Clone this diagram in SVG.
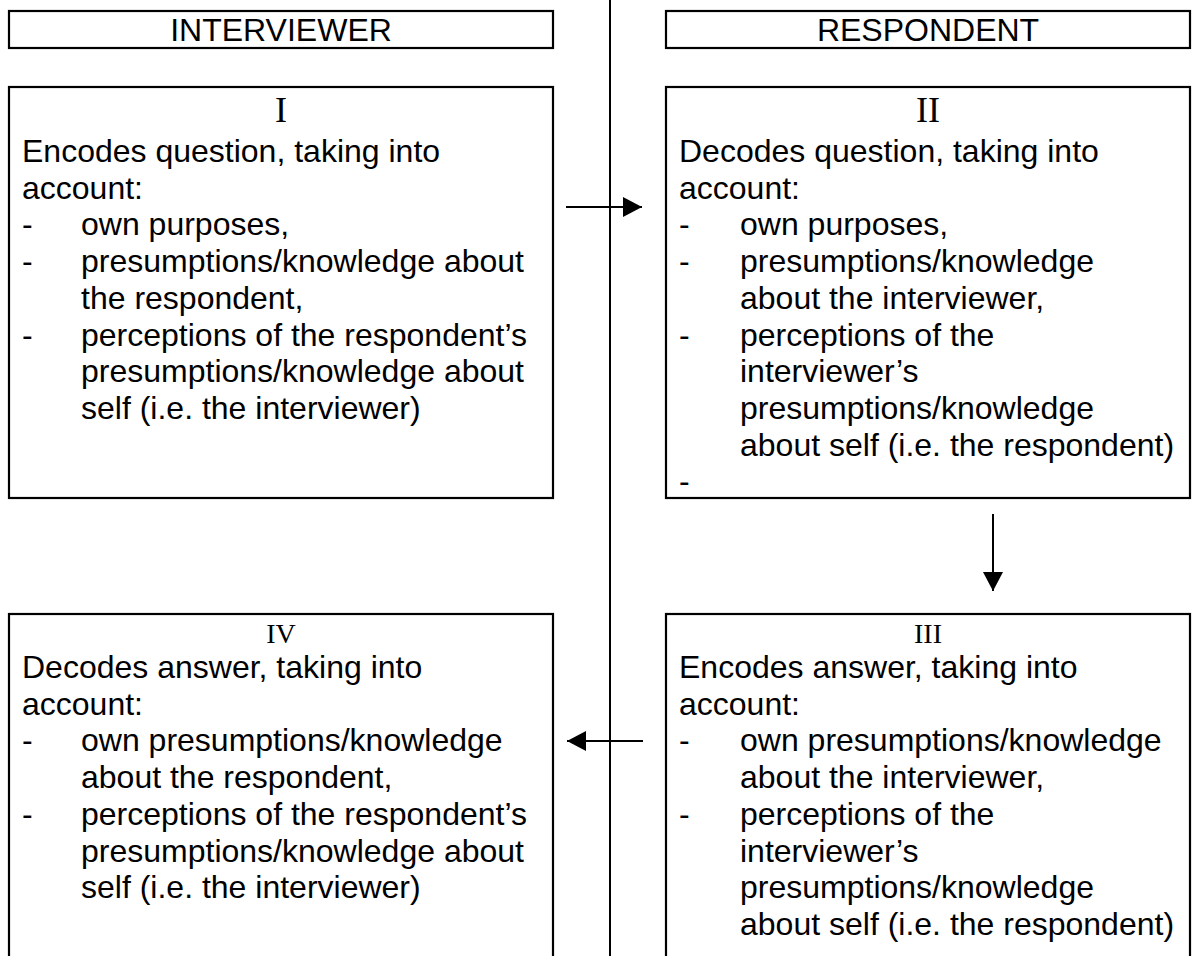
<svg xmlns="http://www.w3.org/2000/svg" width="1197" height="956" viewBox="0 0 1197 956">
<style>
  .box { fill: #fff; stroke: #000; stroke-width: 2.2; }
  .t { font-family: "Liberation Sans", Arial, sans-serif; font-size: 32px; fill: #000; }
  .num { font-family: "Liberation Serif", "Times New Roman", serif; font-size: 36px; fill: #000; text-anchor: middle; }
  .num2 { font-family: "Liberation Serif", "Times New Roman", serif; font-size: 28px; fill: #000; text-anchor: middle; }
  .hd { text-anchor: middle; }
  .conn { stroke: #000; stroke-width: 2; fill: none; }
</style>
<defs>
  <marker id="ah" markerUnits="userSpaceOnUse" markerWidth="20" markerHeight="22" refX="19" refY="10" orient="auto">
    <path d="M0,0 L19,10 L0,20 Z" fill="#000"/>
  </marker>
</defs>
<rect width="1197" height="956" fill="#fff"/>

<g id="divider">
  <line x1="610" y1="0" x2="610" y2="956" stroke="#000" stroke-width="2"/>
</g>

<g id="header-interviewer">
  <rect class="box" x="9" y="11" width="544" height="37"/>
  <text class="t hd" x="281" y="41">INTERVIEWER</text>
</g>
<g id="header-respondent">
  <rect class="box" x="666" y="11" width="524" height="37"/>
  <text class="t hd" x="928" y="41">RESPONDENT</text>
</g>

<g id="box-I">
  <rect class="box" x="9" y="87" width="544" height="411"/>
  <text class="num" x="281" y="122">I</text>
  <text class="t" x="22" y="162">Encodes question, taking into</text>
  <text class="t" x="22" y="198.7">account:</text>
  <text class="t" x="22" y="235.4">-</text><text class="t" x="81" y="235.4">own purposes,</text>
  <text class="t" x="22" y="272.1">-</text><text class="t" x="81" y="272.1">presumptions/knowledge about</text>
  <text class="t" x="81" y="308.8">the respondent,</text>
  <text class="t" x="22" y="345.5">-</text><text class="t" x="81" y="345.5">perceptions of the respondent’s</text>
  <text class="t" x="81" y="382.2">presumptions/knowledge about</text>
  <text class="t" x="81" y="418.9">self (i.e. the interviewer)</text>
</g>

<g id="box-II">
  <rect class="box" x="666" y="87" width="524" height="411"/>
  <text class="num" x="928" y="122">II</text>
  <text class="t" x="679" y="162">Decodes question, taking into</text>
  <text class="t" x="679" y="198.7">account:</text>
  <text class="t" x="679" y="235.4">-</text><text class="t" x="740" y="235.4">own purposes,</text>
  <text class="t" x="679" y="272.1">-</text><text class="t" x="740" y="272.1">presumptions/knowledge</text>
  <text class="t" x="740" y="308.8">about the interviewer,</text>
  <text class="t" x="679" y="345.5">-</text><text class="t" x="740" y="345.5">perceptions of the</text>
  <text class="t" x="740" y="382.2">interviewer’s</text>
  <text class="t" x="740" y="418.9">presumptions/knowledge</text>
  <text class="t" x="740" y="455.6">about self (i.e. the respondent)</text>
  <text class="t" x="679" y="492.3">-</text>
</g>

<g id="box-IV">
  <rect class="box" x="9" y="614" width="544" height="360"/>
  <text class="num2" x="281" y="643">IV</text>
  <text class="t" x="22" y="678">Decodes answer, taking into</text>
  <text class="t" x="22" y="714.7">account:</text>
  <text class="t" x="22" y="751.4">-</text><text class="t" x="81" y="751.4">own presumptions/knowledge</text>
  <text class="t" x="81" y="788.1">about the respondent,</text>
  <text class="t" x="22" y="824.8">-</text><text class="t" x="81" y="824.8">perceptions of the respondent’s</text>
  <text class="t" x="81" y="861.5">presumptions/knowledge about</text>
  <text class="t" x="81" y="898.2">self (i.e. the interviewer)</text>
</g>

<g id="box-III">
  <rect class="box" x="666" y="614" width="524" height="360"/>
  <text class="num2" x="928" y="643">III</text>
  <text class="t" x="679" y="678">Encodes answer, taking into</text>
  <text class="t" x="679" y="714.7">account:</text>
  <text class="t" x="679" y="751.4">-</text><text class="t" x="740" y="751.4">own presumptions/knowledge</text>
  <text class="t" x="740" y="788.1">about the interviewer,</text>
  <text class="t" x="679" y="824.8">-</text><text class="t" x="740" y="824.8">perceptions of the</text>
  <text class="t" x="740" y="861.5">interviewer’s</text>
  <text class="t" x="740" y="898.2">presumptions/knowledge</text>
  <text class="t" x="740" y="934.9">about self (i.e. the respondent)</text>
</g>

<g id="connectors">
  <line class="conn" x1="566" y1="207" x2="642" y2="207" marker-end="url(#ah)"/>
  <line class="conn" x1="993" y1="514" x2="993" y2="591" marker-end="url(#ah)"/>
  <line class="conn" x1="643" y1="741" x2="567" y2="741" marker-end="url(#ah)"/>
</g>
</svg>
